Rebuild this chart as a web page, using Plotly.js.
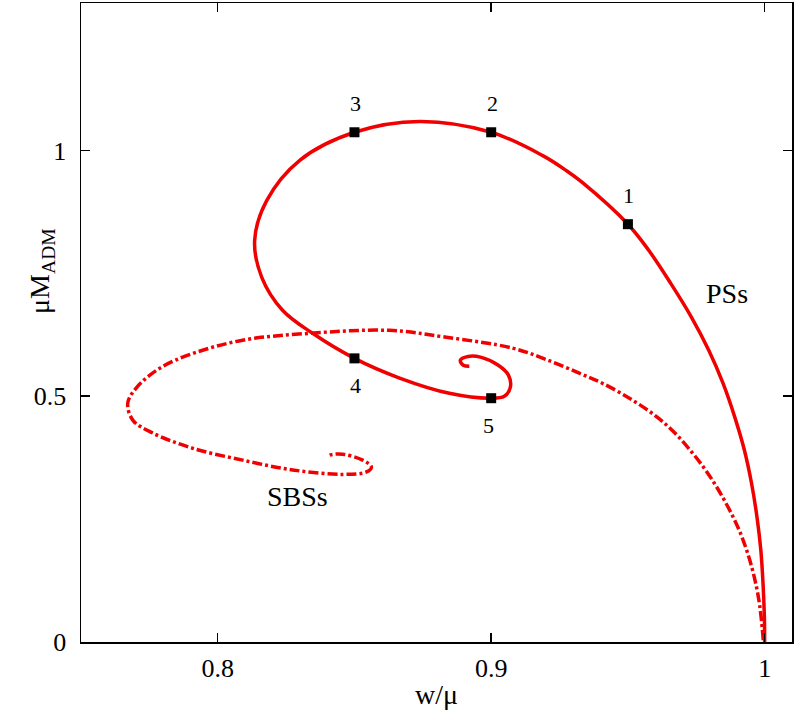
<!DOCTYPE html>
<html>
<head>
<meta charset="utf-8">
<script src="https://cdn.plot.ly/plotly-3.0.1.min.js"></script>
<style>
  body { margin: 0; background: #fff; }
  #plot { width: 794px; height: 713px; }
</style>
</head>
<body>
<div id="plot"></div>
<script>
var psW = [1.0, 0.9999, 0.9994, 0.9986, 0.9972, 0.9952, 0.9926, 0.9891, 0.9848, 0.9796, 0.9732,
  0.9656, 0.9576, 0.95, 0.9333, 0.9275, 0.9187, 0.9, 0.8738, 0.85, 0.830, 0.8179, 0.8135,
  0.8161, 0.8237, 0.8347, 0.85, 0.8665, 0.8847, 0.9, 0.9048, 0.9070, 0.9063, 0.9026, 0.8964,
  0.8916, 0.8887, 0.8898, 0.8920];
var psM = [0, 0.051, 0.120, 0.187, 0.254, 0.323, 0.390, 0.457, 0.526, 0.593, 0.661,
  0.730, 0.797, 0.85, 0.935, 0.959, 0.990, 1.037, 1.059, 1.037, 0.980, 0.898, 0.817,
  0.742, 0.675, 0.628, 0.577, 0.537, 0.506, 0.496, 0.500, 0.518, 0.543, 0.563, 0.579,
  0.581, 0.573, 0.563, 0.561];

// SBSs branch (dash-dot)
var sbsW = [0.9995, 0.9987, 0.9979, 0.9967, 0.9953, 0.9934, 0.9911, 0.9885, 0.9852, 0.9816,
  0.9776, 0.9728, 0.9672, 0.9608, 0.9517, 0.9408, 0.9322, 0.9200, 0.9077, 0.8836, 0.8628, 0.8336,
  0.8091, 0.7909, 0.7788, 0.7704, 0.7671, 0.7690, 0.7763, 0.7909, 0.8091, 0.8274, 0.8457,
  0.8544, 0.8562, 0.8530, 0.8457, 0.8409, 0.8402];
var sbsM = [0.004, 0.051, 0.085, 0.120, 0.152, 0.187, 0.222, 0.254, 0.289, 0.323,
  0.356, 0.390, 0.425, 0.457, 0.492, 0.526, 0.547, 0.575, 0.598, 0.620, 0.634, 0.628,
  0.614, 0.587, 0.557, 0.518, 0.486, 0.451, 0.425, 0.394, 0.370, 0.350, 0.341,
  0.346, 0.356, 0.370, 0.382, 0.380, 0.376];

// numbered points on the PSs branch
var ptW = [0.95, 0.9, 0.85, 0.85, 0.9];
var ptM = [0.85, 1.037, 1.037, 0.577, 0.496];
var ptLabels = ["1", "2", "3", "4", "5"];
var ptAbove = [true, true, true, false, false];

var serif = "Liberation Serif";

var tracePS = {
  x: psW, y: psM, mode: "lines", type: "scatter",
  line: { color: "#f00000", width: 3.5, shape: "spline", smoothing: 1 },
  hoverinfo: "skip"
};

var traceSBS = {
  x: sbsW, y: sbsM, mode: "lines", type: "scatter",
  line: { color: "#f00000", width: 3.5, shape: "spline", smoothing: 1, dash: "10px,3px,3px,3px" },
  hoverinfo: "skip"
};

var tracePts = {
  x: ptW, y: ptM, mode: "markers", type: "scatter",
  marker: { color: "black", symbol: "square", size: 10 },
  hoverinfo: "skip"
};

var annotations = ptLabels.map(function (t, i) {
  return {
    x: ptW[i], y: ptM[i], xref: "x", yref: "y", text: t, showarrow: false,
    yshift: ptAbove[i] ? 29 : -27, xshift: i == 4 ? -3 : 1,
    font: { family: serif, size: 22, color: "black" }
  };
});
annotations.push(
  { x: 0.9863, y: 0.709, xref: "x", yref: "y", text: "PSs", showarrow: false,
    font: { family: serif, size: 28, color: "black" } },
  { x: 0.8292, y: 0.297, xref: "x", yref: "y", text: "SBSs", showarrow: false,
    font: { family: serif, size: 28, color: "black" } },
  { x: -0.083, y: 0.756, xref: "paper", yref: "y", text: "μM<sub>ADM</sub>", showarrow: false,
    textangle: -90, font: { family: serif, size: 28, color: "black" } }
);

var axisStyle = {
  showline: true, linecolor: "black", linewidth: 1.5, mirror: "ticks",
  ticks: "inside", ticklen: 9, tickwidth: 1.5, tickcolor: "black",
  showgrid: false, zeroline: false,
  tickfont: { family: serif, size: 26, color: "black" }
};

var layout = {
  width: 794, height: 713,
  margin: { l: 81, r: 2, t: 3, b: 71 },
  showlegend: false,
  paper_bgcolor: "white", plot_bgcolor: "white",
  xaxis: Object.assign({}, axisStyle, {
    range: [0.75, 1.01], tickvals: [0.8, 0.9, 1], ticktext: ["0.8", "0.9", "1"],
    ticklabelstandoff: 2,
    title: { text: "w/μ", font: { family: serif, size: 28, color: "black" }, standoff: 2 }
  }),
  yaxis: Object.assign({}, axisStyle, {
    range: [0, 1.3], tickvals: [0, 0.5, 1], ticktext: ["0", "0.5", "1"],
    ticklabelstandoff: 8
  }),
  annotations: annotations
};

Plotly.newPlot("plot", [traceSBS, tracePS, tracePts], layout, { staticPlot: true });
</script>
</body>
</html>
